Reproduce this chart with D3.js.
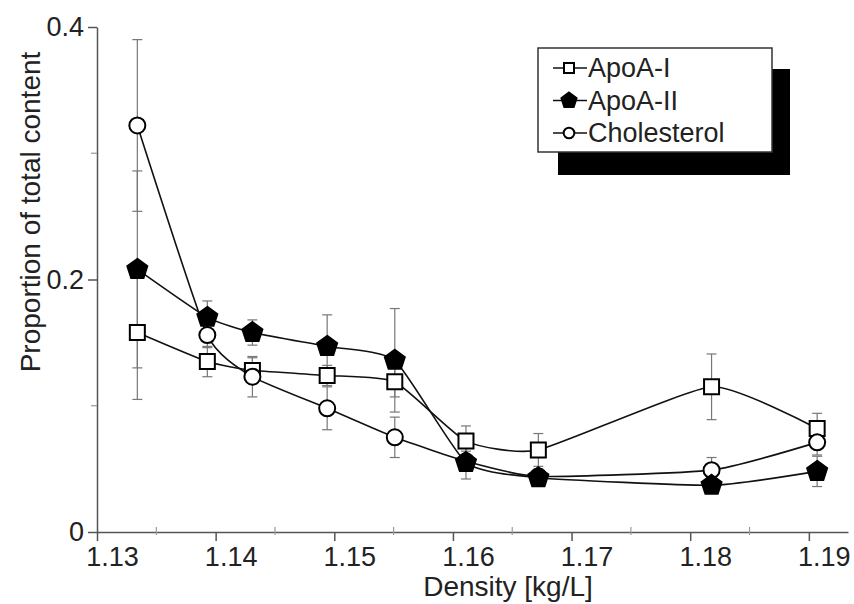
<!DOCTYPE html>
<html>
<head>
<meta charset="utf-8">
<script src="https://cdn.jsdelivr.net/npm/d3@7"></script>
<style>
  body { margin: 0; background: #fff; }
  svg { display: block; font-family: "Liberation Sans", Arial, sans-serif; }
</style>
</head>
<body>
<div id="chart"></div>
<script>
// densities of the fractions (kg/L)
var density = [1.1334, 1.1393, 1.1431, 1.1494, 1.1551, 1.1611, 1.1672, 1.1818, 1.1907];

// proportion of total content, with error bars
var apoA1 = [0.158, 0.135, 0.128, 0.124, 0.119, 0.072, 0.065, 0.115, 0.082];
var apoA1Err = [0.053, 0.012, 0.010, 0.008, 0.012, 0.012, 0.013, 0.026, 0.012];
var apoA2 = [0.208, 0.170, 0.158, 0.147, 0.136, 0.055, 0.043, 0.037, 0.048];
var apoA2Err = [0.078, 0.013, 0.010, 0.025, 0.041, 0.013, 0.006, 0.006, 0.012];
var chol = [0.322, 0.156, 0.123, 0.098, 0.075, 0.056, 0.044, 0.049, 0.071];
var cholErr = [0.068, 0.010, 0.016, 0.017, 0.016, 0.008, 0.006, 0.010, 0.010];

var seriesNames = ["ApoA-I", "ApoA-II", "Cholesterol"];
var xMajor = [1.13, 1.14, 1.15, 1.16, 1.17, 1.18, 1.19];
var xMinor = [1.135, 1.145, 1.155, 1.165, 1.175, 1.185];
var yMajor = [0, 0.2, 0.4];
var yMinor = [0.1, 0.3];

var width = 854, height = 604;

var svg = d3.select("#chart").append("svg")
    .attr("width", width)
    .attr("height", height);

var x = d3.scaleLinear().domain([1.13, 1.1933]).range([97, 848]);
var y = d3.scaleLinear().domain([0, 0.4]).range([532, 27]);

var axisColor = "#555";

// x axis
var gx = svg.append("g")
    .attr("transform", "translate(0," + y(0) + ")")
    .call(d3.axisBottom(x)
        .tickValues(xMajor)
        .tickSize(9)
        .tickSizeOuter(0)
        .tickFormat(d3.format(".2f")));

gx.selectAll("text")
    .attr("y", 15)
    .attr("dx", 15)
    .attr("font-size", 27)
    .attr("fill", "#222");

gx.selectAll("line, path").attr("stroke", axisColor).attr("stroke-width", 1.5);

gx.selectAll(".minor")
    .data(xMinor)
    .enter().append("line")
    .attr("class", "minor")
    .attr("x1", function (d) { return x(d); })
    .attr("x2", function (d) { return x(d); })
    .attr("y1", -5)
    .attr("y2", 3)
    .attr("stroke", "#999")
    .attr("stroke-width", 1.2);

// y axis
var gy = svg.append("g")
    .attr("transform", "translate(" + x(1.13) + ",0)")
    .call(d3.axisLeft(y)
        .tickValues(yMajor)
        .tickSize(9)
        .tickSizeOuter(0)
        .tickFormat(function (d) { return d === 0 ? "0" : d.toFixed(1); }));

gy.selectAll("text")
    .attr("x", -13)
    .attr("font-size", 27)
    .attr("fill", "#222");

gy.selectAll("line, path").attr("stroke", axisColor).attr("stroke-width", 1.5);

gy.selectAll(".minor")
    .data(yMinor)
    .enter().append("line")
    .attr("class", "minor")
    .attr("x1", -6)
    .attr("x2", 0)
    .attr("y1", function (d) { return y(d); })
    .attr("y2", function (d) { return y(d); })
    .attr("stroke", "#999")
    .attr("stroke-width", 1.2);

// axis titles
svg.append("text")
    .attr("x", 508)
    .attr("y", 596)
    .attr("text-anchor", "middle")
    .attr("font-size", 28)
    .attr("fill", "#222")
    .text("Density [kg/L]");

svg.append("text")
    .attr("transform", "translate(40,212) rotate(-90)")
    .attr("text-anchor", "middle")
    .attr("font-size", 28)
    .attr("fill", "#222")
    .text("Proportion of total content");

// pentagon symbol, pointing up
var pentagon = {
  draw: function (context, size) {
    var r = Math.sqrt(size / 2.378);
    for (var i = 0; i < 5; i++) {
      var a = -Math.PI / 2 + i * 2 * Math.PI / 5;
      if (i === 0) context.moveTo(r * Math.cos(a), r * Math.sin(a));
      else context.lineTo(r * Math.cos(a), r * Math.sin(a));
    }
    context.closePath();
  }
};

var series = [
  {name: seriesNames[0], values: apoA1, err: apoA1Err, type: d3.symbolSquare, size: 225, legendSize: 100, fill: "#fff"},
  {name: seriesNames[2], values: chol, err: cholErr, type: d3.symbolCircle, size: 201, legendSize: 90, fill: "#fff"},
  {name: seriesNames[1], values: apoA2, err: apoA2Err, type: pentagon, size: 262, legendSize: 150, fill: "#000"}
];

var line = d3.line()
    .x(function (d) { return x(d[0]); })
    .y(function (d) { return y(d[1]); })
    .curve(d3.curveCardinal.tension(0.5));

// error bars first, lines, then markers on top
series.forEach(function (s) {
  var g = svg.append("g").attr("class", "err");
  density.forEach(function (dx, i) {
    var cx = x(dx), lo = y(s.values[i] - s.err[i]), hi = y(s.values[i] + s.err[i]);
    g.append("line").attr("x1", cx).attr("x2", cx).attr("y1", lo).attr("y2", hi);
    g.append("line").attr("x1", cx - 5).attr("x2", cx + 5).attr("y1", lo).attr("y2", lo);
    g.append("line").attr("x1", cx - 5).attr("x2", cx + 5).attr("y1", hi).attr("y2", hi);
  });
  g.selectAll("line").attr("stroke", "#777").attr("stroke-width", 1.2);
});

series.forEach(function (s) {
  svg.append("path")
      .datum(density.map(function (d, i) { return [d, s.values[i]]; }))
      .attr("d", line)
      .attr("fill", "none")
      .attr("stroke", "#111")
      .attr("stroke-width", 1.6);
});

series.forEach(function (s) {
  svg.append("g").selectAll("path")
      .data(density.map(function (d, i) { return [d, s.values[i]]; }))
      .enter().append("path")
      .attr("transform", function (d) { return "translate(" + x(d[0]) + "," + y(d[1]) + ")"; })
      .attr("d", d3.symbol().type(s.type).size(s.size))
      .attr("fill", s.fill)
      .attr("stroke", "#000")
      .attr("stroke-width", 2);
});

// legend with drop shadow
var legend = svg.append("g");
legend.append("rect")
    .attr("x", 558).attr("y", 69)
    .attr("width", 232).attr("height", 106)
    .attr("fill", "#000");
legend.append("rect")
    .attr("x", 538).attr("y", 48)
    .attr("width", 234).attr("height", 104)
    .attr("fill", "#fff")
    .attr("stroke", "#333")
    .attr("stroke-width", 1.5);

var legendOrder = [series[0], series[2], series[1]];
legendOrder.forEach(function (s, i) {
  var ly = 68 + i * 32.5;
  legend.append("line")
      .attr("x1", 553).attr("x2", 587)
      .attr("y1", ly).attr("y2", ly)
      .attr("stroke", "#111").attr("stroke-width", 1.6);
  legend.append("path")
      .attr("transform", "translate(569," + ly + ")")
      .attr("d", d3.symbol().type(s.type).size(s.legendSize))
      .attr("fill", s.fill)
      .attr("stroke", "#000")
      .attr("stroke-width", 2);
  legend.append("text")
      .attr("x", 588)
      .attr("y", ly + 9)
      .attr("font-size", 27)
      .attr("fill", "#222")
      .text(s.name);
});
</script>
</body>
</html>
